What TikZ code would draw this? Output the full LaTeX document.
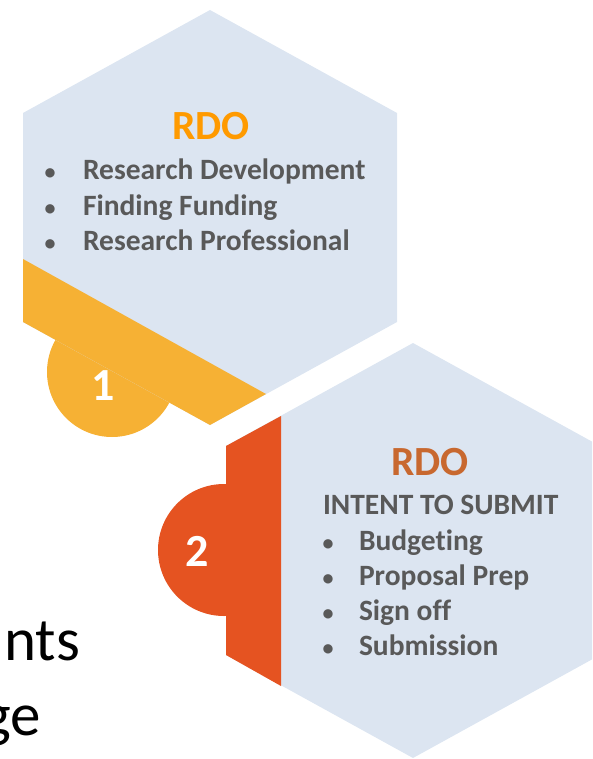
\documentclass[tikz,border=0pt]{standalone}
\usepackage{fontspec}
\setmainfont{Carlito}[Ligatures=NoCommon]
\usepackage{tikz, xcolor}
\newcommand{\pixsize}{1pt}

\definecolor{hexblue}{HTML}{DCE5F1}
\definecolor{goldband}{HTML}{F6B134}
\definecolor{redband}{HTML}{E55321}
\definecolor{titleone}{HTML}{FF9A00}
\definecolor{titletwo}{HTML}{C8682F}
\definecolor{itemgray}{HTML}{595959}

\begin{document}
\begin{tikzpicture}
\useasboundingbox (0,0) rectangle (592*\pixsize,-759*\pixsize);
\clip (0,0) rectangle (592*\pixsize,-759*\pixsize);
\tikzstyle{every node}=[inner sep=0pt, outer sep=0pt]
\tikzstyle{hextitle}=[font=\bfseries\fontsize{41.5}{48}\selectfont, anchor=base]
\tikzstyle{hexsub}=[font=\bfseries\fontsize{29.5}{34}\selectfont, text=itemgray, anchor=base west]
\tikzstyle{hexbullet}=[font=\bfseries\fontsize{22}{26}\selectfont, text=itemgray, anchor=base]
\tikzstyle{hexitem}=[font=\bfseries\fontsize{29.5}{34}\selectfont, text=itemgray, anchor=base west]
\tikzstyle{stepnum}=[font=\bfseries\fontsize{46}{52}\selectfont, text=white]
\tikzstyle{slidetext}=[font=\fontsize{61}{72}\selectfont, text=black, anchor=base east]

% background slide text
\node[slidetext] (slideA) at (80*\pixsize,-660*\pixsize) {nts};
\node[slidetext] (slideB) at (41*\pixsize,-735*\pixsize) {ge};

% step 1
\fill[goldband] (112*\pixsize,-372*\pixsize) circle (65*\pixsize);
\fill[hexblue] (210*\pixsize,-10*\pixsize) -- (397*\pixsize,-113*\pixsize)
  -- (397*\pixsize,-322*\pixsize) -- (210*\pixsize,-425*\pixsize)
  -- (23*\pixsize,-322*\pixsize) -- (23*\pixsize,-113*\pixsize) -- cycle;
\fill[goldband] (23*\pixsize,-259*\pixsize) -- (266*\pixsize,-394*\pixsize)
  -- (210*\pixsize,-425*\pixsize) -- (23*\pixsize,-322*\pixsize) -- cycle;

\node[stepnum] (numA) at (103*\pixsize,-386*\pixsize) {1};

\node[hextitle, text=titleone] (titleA) at (211*\pixsize,-140*\pixsize) {RDO};

\node[hexbullet] (bulA1) at (50*\pixsize,-180*\pixsize) {•};
\node[hexitem] (itemA1) at (83*\pixsize,-180*\pixsize) {Research Development};

\node[hexbullet] (bulA2) at (50*\pixsize,-215*\pixsize) {•};
\node[hexitem] (itemA2) at (83*\pixsize,-215*\pixsize) {Finding Funding};

\node[hexbullet] (bulA3) at (50*\pixsize,-250*\pixsize) {•};
\node[hexitem] (itemA3) at (83*\pixsize,-250*\pixsize) {Research Professional};

% step 2
\fill[redband] (224*\pixsize,-550*\pixsize) circle (66*\pixsize);
\fill[hexblue] (413*\pixsize,-343*\pixsize) -- (600*\pixsize,-446*\pixsize)
  -- (600*\pixsize,-655*\pixsize) -- (413*\pixsize,-758*\pixsize)
  -- (226*\pixsize,-655*\pixsize) -- (226*\pixsize,-446*\pixsize) -- cycle;
\fill[redband] (226*\pixsize,-446*\pixsize) -- (281*\pixsize,-416*\pixsize)
  -- (281*\pixsize,-686*\pixsize) -- (226*\pixsize,-655*\pixsize) -- cycle;

\node[stepnum] (numB) at (197*\pixsize,-551*\pixsize) {2};

\node[hextitle, text=titletwo] (titleB) at (430*\pixsize,-475*\pixsize) {RDO};
\node[hexsub] (subB) at (323*\pixsize,-514*\pixsize) {INTENT TO SUBMIT};

\node[hexbullet] (bulB1) at (328*\pixsize,-550*\pixsize) {•};
\node[hexitem] (itemB1) at (359*\pixsize,-550*\pixsize) {Budgeting};

\node[hexbullet] (bulB2) at (328*\pixsize,-585*\pixsize) {•};
\node[hexitem] (itemB2) at (359*\pixsize,-585*\pixsize) {Proposal Prep};

\node[hexbullet] (bulB3) at (328*\pixsize,-620*\pixsize) {•};
\node[hexitem] (itemB3) at (359*\pixsize,-620*\pixsize) {Sign off};

\node[hexbullet] (bulB4) at (328*\pixsize,-655*\pixsize) {•};
\node[hexitem] (itemB4) at (359*\pixsize,-655*\pixsize) {Submission};

\end{tikzpicture}
\end{document}
